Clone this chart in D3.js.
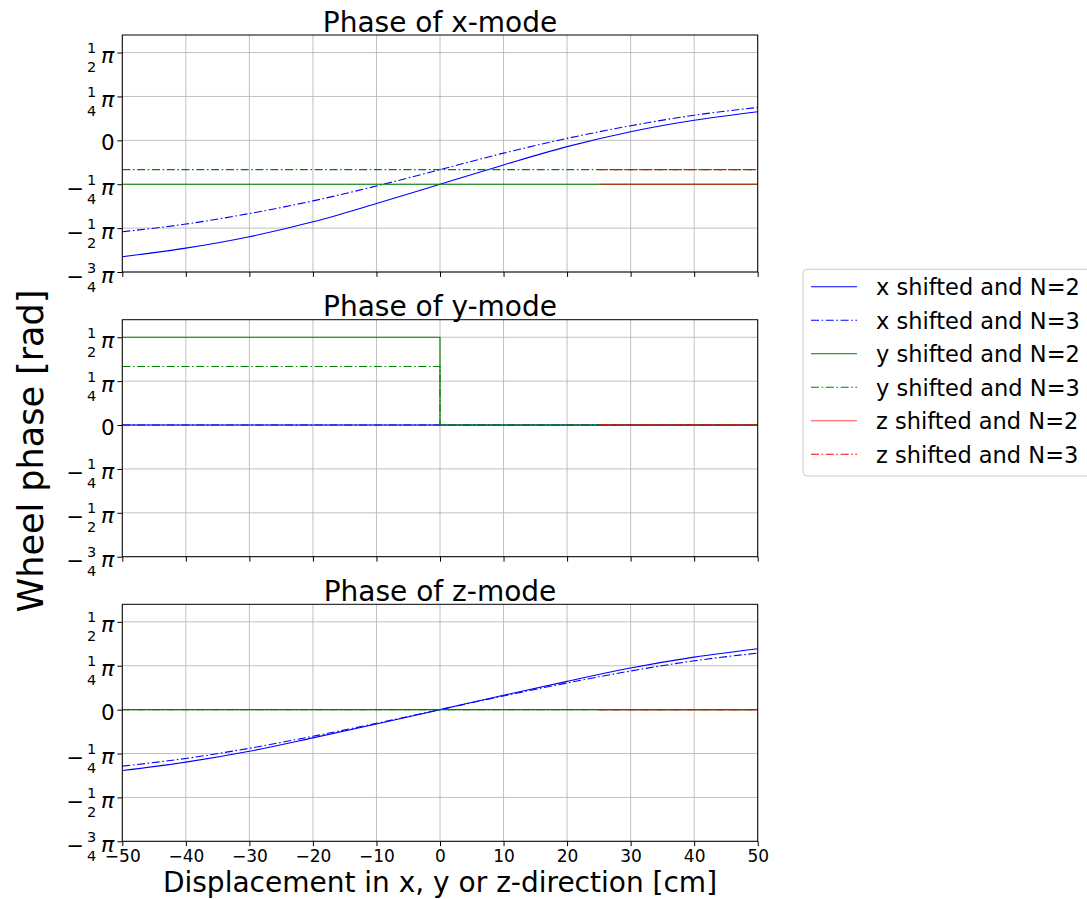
<!DOCTYPE html>
<html>
<head>
<meta charset="utf-8">
<script src="https://cdn.jsdelivr.net/npm/d3@7"></script>
<style>
  html, body { margin: 0; padding: 0; background: #fff; }
  text { font-family: "DejaVu Sans", sans-serif; fill: #000; }
</style>
</head>
<body>
<script>
// Displacement samples [cm]
const xs = [-50, -40, -30, -20, -10, 0, 10, 20, 30, 40, 50];
const xsZ = [25, 30, 40, 50];
const xsStep = [-50, 0, 0, 50];

// Phases in units of pi — x-mode
const xModeXN2 = [-0.663, -0.614, -0.549, -0.464, -0.360, -0.25, -0.14, -0.036, 0.049, 0.114, 0.163];
const xModeXN3 = [-0.521, -0.477, -0.417, -0.345, -0.26, -0.167, -0.073, 0.011, 0.083, 0.143, 0.187];
const xModeYN2 = [-0.25, -0.25, -0.25, -0.25, -0.25, -0.25, -0.25, -0.25, -0.25, -0.25, -0.25];
const xModeYN3 = [-0.167, -0.167, -0.167, -0.167, -0.167, -0.167, -0.167, -0.167, -0.167, -0.167, -0.167];
const xModeZN2 = [-0.25, -0.25, -0.25, -0.25];
const xModeZN3 = [-0.167, -0.167, -0.167, -0.167];

// y-mode
const yModeXN2 = [0, 0, 0, 0, 0, 0, 0, 0, 0, 0, 0];
const yModeXN3 = [0, 0, 0, 0, 0, 0, 0, 0, 0, 0, 0];
const yModeYN2 = [0.5, 0.5, 0, 0];
const yModeYN3 = [0.333, 0.333, 0, 0];
const yModeZN2 = [0, 0, 0, 0];
const yModeZN3 = [0, 0, 0, 0];

// z-mode
const zModeXN2 = [-0.347, -0.299, -0.237, -0.161, -0.082, 0, 0.082, 0.161, 0.237, 0.299, 0.347];
const zModeXN3 = [-0.322, -0.278, -0.22, -0.152, -0.078, 0, 0.078, 0.152, 0.22, 0.278, 0.322];
const zModeYN2 = [0, 0, 0, 0, 0, 0, 0, 0, 0, 0, 0];
const zModeYN3 = [0, 0, 0, 0, 0, 0, 0, 0, 0, 0, 0];
const zModeZN2 = [0, 0, 0, 0];
const zModeZN3 = [0, 0, 0, 0];

const seriesNames = ["x shifted and N=2", "x shifted and N=3", "y shifted and N=2",
                     "y shifted and N=3", "z shifted and N=2", "z shifted and N=3"];
const seriesColors = ["#0000ff", "#0000ff", "#008000", "#008000", "#ff0000", "#ff0000"];
const seriesOpacity = [1, 1, 1, 1, 0.7, 1];
const seriesDashed = [false, true, false, true, false, true];

const panelTitles = ["Phase of x-mode", "Phase of y-mode", "Phase of z-mode"];
const xTicks = [-50, -40, -30, -20, -10, 0, 10, 20, 30, 40, 50];
const yTicks = [-0.75, -0.5, -0.25, 0, 0.25, 0.5];
const yTickLabels = ["−3/4π", "−1/2π", "−1/4π", "0", "1/4π", "1/2π"];
const xLabel = "Displacement in x, y or z-direction [cm]";
const yLabel = "Wheel phase [rad]";

const panels = [
  { title: panelTitles[0], series: [
    [xs, xModeXN2], [xs, xModeXN3], [xs, xModeYN2], [xs, xModeYN3], [xsZ, xModeZN2], [xsZ, xModeZN3]] },
  { title: panelTitles[1], series: [
    [xs, yModeXN2], [xs, yModeXN3], [xsStep, yModeYN2], [xsStep, yModeYN3], [xsZ, yModeZN2], [xsZ, yModeZN3]] },
  { title: panelTitles[2], series: [
    [xs, zModeXN2], [xs, zModeXN3], [xs, zModeYN2], [xs, zModeYN3], [xsZ, zModeZN2], [xsZ, zModeZN3]] }
];

const W = 1087, H = 899;
const left = 122.3, right = 757.7;
const panelTops = [35, 319.7, 604.3];
const panelH = 237;
const dashPattern = "8,2.6,1.6,2.6";

const svg = d3.select("body").append("svg").attr("width", W).attr("height", H);
svg.append("rect").attr("width", W).attr("height", H).attr("fill", "#fff");

const x = d3.scaleLinear().domain([-50, 50]).range([left, right]);

panels.forEach((p, pi) => {
  const top = panelTops[pi];
  const bottom = top + panelH;
  const y = d3.scaleLinear().domain([-0.75, 0.6]).range([bottom, top]);
  const g = svg.append("g");

  // grid
  g.append("g").selectAll("line").data(xTicks).join("line")
    .attr("x1", d => x(d)).attr("x2", d => x(d)).attr("y1", top).attr("y2", bottom)
    .attr("stroke", "#b0b0b0").attr("stroke-width", 0.8);
  g.append("g").selectAll("line").data(yTicks).join("line")
    .attr("x1", left).attr("x2", right).attr("y1", d => y(d)).attr("y2", d => y(d))
    .attr("stroke", "#b0b0b0").attr("stroke-width", 0.8);

  // series
  const clipId = "clip" + pi;
  svg.append("clipPath").attr("id", clipId).append("rect")
    .attr("x", left).attr("y", top).attr("width", right - left).attr("height", panelH);
  const lines = g.append("g").attr("clip-path", `url(#${clipId})`);
  p.series.forEach(([sx, sv], si) => {
    const pts = sx.map((xv, i) => [xv, sv[i]]);
    const distinct = new Set(sx).size === sx.length;
    const line = d3.line().x(d => x(d[0])).y(d => y(d[1]))
      .curve(distinct ? d3.curveMonotoneX : d3.curveLinear);
    lines.append("path").attr("d", line(pts))
      .attr("fill", "none")
      .attr("stroke", seriesColors[si])
      .attr("stroke-opacity", seriesOpacity[si])
      .attr("stroke-width", 1.1)
      .attr("stroke-dasharray", seriesDashed[si] ? dashPattern : null);
  });

  // axes
  const ax = g.append("g").attr("transform", `translate(0,${bottom})`)
    .call(d3.axisBottom(x).tickValues(xTicks).tickSize(4.9).tickPadding(4)
      .tickFormat(pi === 2 ? (d => d < 0 ? "−" + Math.abs(d) : String(d)) : () => ""));
  ax.select(".domain").remove();
  ax.selectAll(".tick line").attr("stroke", "#000").attr("stroke-width", 1);
  ax.selectAll(".tick text").attr("font-size", 17).attr("font-family", "DejaVu Sans")
    .attr("fill", "#000").attr("dy", null).attr("y", 21).attr("dominant-baseline", "alphabetic");

  const ay = g.append("g").attr("transform", `translate(${left},0)`)
    .call(d3.axisLeft(y).tickValues(yTicks).tickSize(4.9).tickFormat(() => ""));
  ay.select(".domain").remove();
  ay.selectAll(".tick line").attr("stroke", "#000").attr("stroke-width", 1);
  ay.selectAll(".tick").each(function (d) {
    const t = d3.select(this);
    t.selectAll("text").remove();
    const lab = yTickLabels[yTicks.indexOf(d)];
    if (lab === "0") {
      t.append("text").attr("x", -7.6).attr("y", 9.5).attr("text-anchor", "end")
        .attr("font-size", 21.5).text("0");
      return;
    }
    const neg = lab.startsWith("−");
    const body = neg ? lab.slice(1) : lab;
    const [num, rest] = body.split("/");
    const den = rest.replace("π", "");
    t.append("text").attr("x", -8).attr("y", 10).attr("text-anchor", "end")
      .attr("font-size", 22).attr("font-style", "italic").text("π");
    t.append("text").attr("x", -30.6).attr("y", 0).attr("text-anchor", "middle")
      .attr("font-size", 14.5).text(num);
    t.append("text").attr("x", -30.6).attr("y", 19).attr("text-anchor", "middle")
      .attr("font-size", 14.5).text(den);
    if (neg) {
      t.append("text").attr("x", -38.3).attr("y", 11).attr("text-anchor", "end")
        .attr("font-size", 21).text("−");
    }
  });

  // frame
  g.append("rect").attr("x", left).attr("y", top).attr("width", right - left).attr("height", panelH)
    .attr("fill", "none").attr("stroke", "#000").attr("stroke-width", 1);

  // title
  svg.append("text").attr("x", (left + right) / 2).attr("y", top - 3.5)
    .attr("text-anchor", "middle").attr("font-size", 28).text(p.title);
});

// axis labels
svg.append("text").attr("x", 440).attr("y", 891.5).attr("text-anchor", "middle")
  .attr("font-size", 28).text(xLabel);
svg.append("text").attr("transform", "translate(43,451) rotate(-90)")
  .attr("text-anchor", "middle").attr("font-size", 35).text(yLabel);

// legend
const lg = svg.append("g");
lg.append("rect").attr("x", 803).attr("y", 269.3).attr("width", 300).attr("height", 206.7)
  .attr("rx", 4).attr("fill", "#fff").attr("fill-opacity", 0.8)
  .attr("stroke", "#cccccc").attr("stroke-width", 1);
seriesNames.forEach((name, i) => {
  const ly = 286.7 + i * 33.5;
  lg.append("line").attr("x1", 811).attr("x2", 857).attr("y1", ly).attr("y2", ly)
    .attr("stroke", seriesColors[i]).attr("stroke-opacity", seriesOpacity[i])
    .attr("stroke-width", 1.1)
    .attr("stroke-dasharray", seriesDashed[i] ? dashPattern : null);
  lg.append("text").attr("x", 876).attr("y", ly + 8.5).attr("font-size", 22.5).text(name);
});
</script>
</body>
</html>
